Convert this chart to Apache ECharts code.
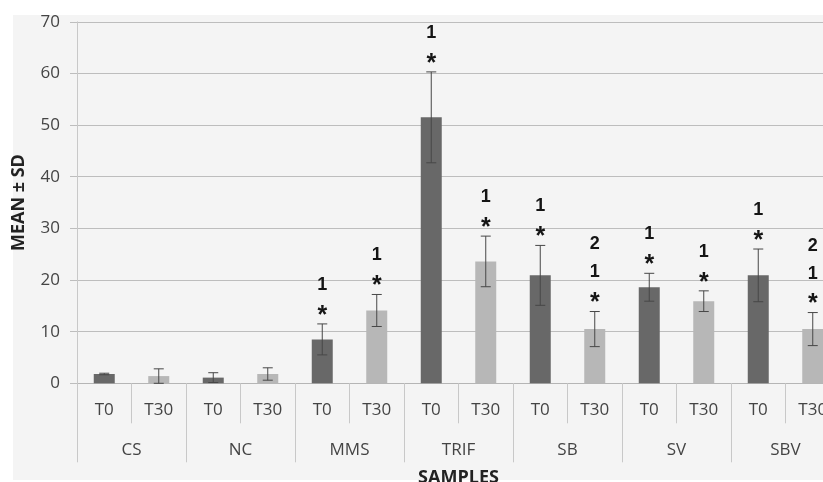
<!DOCTYPE html>
<html>
<head>
<meta charset="utf-8">
<script src="https://cdn.jsdelivr.net/npm/echarts@6/dist/echarts.min.js"></script>
<style>
html,body{margin:0;padding:0;background:#fff;}
#chart{width:823px;height:482px;}
</style>
</head>
<body>
<div id="chart"></div>
<script>
// ---- data ----
const groups = ['CS', 'NC', 'MMS', 'TRIF', 'SB', 'SV', 'SBV'];
const times = ['T0', 'T30', 'T0', 'T30', 'T0', 'T30', 'T0', 'T30', 'T0', 'T30', 'T0', 'T30', 'T0', 'T30'];
const means = [1.8, 1.4, 1.1, 1.8, 8.5, 14.1, 51.5, 23.6, 20.9, 10.5, 18.6, 15.9, 20.9, 10.5];
const sds   = [0.15, 1.4, 0.95, 1.2, 3.0, 3.1, 8.8, 4.9, 5.8, 3.4, 2.7, 2.0, 5.1, 3.2];
// significance marks above each bar: lines from bottom (near bar) to top
const marks = [[], [], [], [], ['*', '1'], ['*', '1'], ['*', '1'], ['*', '1'], ['*', '1'], ['*', '1', '2'], ['*', '1'], ['*', '1'], ['*', '1'], ['*', '1', '2']];
const yTicks = { min: 0, max: 70, interval: 10 };

// ---- chart ----
const DARK = '#686868', LIGHT = '#b7b7b7';
const labelColor = '#444444';
const lineColor = '#bdbdbd';
const chart = echarts.init(document.getElementById('chart'));
const gridBox = { left: 77, right: -17, top: 21.8, bottom: 98.7, outerBoundsMode: 'none', containLabel: false };
const markOffsets = [8, 39, 67];
const markFonts = ['bold 25px "Liberation Sans"', 'bold 18px "Liberation Sans"', 'bold 18px "Liberation Sans"'];

chart.setOption({
  animation: false,
  backgroundColor: '#ffffff',
  graphic: [
    { type: 'rect', z: -1, shape: { x: 13, y: 15, width: 810, height: 465 }, style: { fill: '#f4f4f4' } },
    { type: 'rect', z: 100, shape: { x: 0, y: 0, width: 823, height: 14 }, style: { fill: '#ffffff' } }
  ],
  grid: [Object.assign({}, gridBox), Object.assign({}, gridBox)],
  xAxis: [
    {
      type: 'category', gridIndex: 0, data: times, position: 'bottom',
      axisLine: { show: true, lineStyle: { color: '#b5b5b5', width: 1 } },
      axisTick: { show: true, interval: 0, length: 40, lineStyle: { color: '#c8c8c8' } },
      axisLabel: { interval: 0, margin: 18, fontFamily: 'Open Sans', fontSize: 17, color: labelColor }
    },
    {
      type: 'category', gridIndex: 1, data: groups, position: 'bottom',
      axisLine: { show: false },
      axisTick: { show: true, interval: 0, length: 79, lineStyle: { color: '#c8c8c8' } },
      axisLabel: { interval: 0, margin: 58, fontFamily: 'Open Sans', fontSize: 17, color: labelColor },
      name: 'SAMPLES', nameLocation: 'middle', nameGap: 86,
      nameTextStyle: { fontFamily: 'Open Sans', fontWeight: 'bold', fontSize: 18, color: '#222' }
    }
  ],
  yAxis: [
    {
      type: 'value', gridIndex: 0, min: yTicks.min, max: yTicks.max, interval: yTicks.interval,
      axisLine: { show: true, lineStyle: { color: '#c8c8c8' } },
      axisTick: { show: true, length: 7, lineStyle: { color: lineColor } },
      splitLine: { show: true, lineStyle: { color: lineColor, width: 1.2 } },
      axisLabel: { margin: 17, fontFamily: 'Open Sans', fontSize: 17, color: labelColor },
      name: 'MEAN \u00b1 SD', nameLocation: 'middle', nameRotate: 90, nameGap: 49,
      nameTextStyle: { fontFamily: 'Open Sans', fontWeight: 'bold', fontSize: 18, color: '#222' }
    },
    {
      type: 'value', gridIndex: 1, min: yTicks.min, max: yTicks.max, interval: yTicks.interval, show: false
    }
  ],
  series: [
    {
      type: 'bar', xAxisIndex: 0, yAxisIndex: 0, barWidth: 21,
      data: means,
      itemStyle: { color: p => (p.dataIndex % 2 ? LIGHT : DARK) },
      z: 2
    },
    {
      type: 'custom', xAxisIndex: 0, yAxisIndex: 0, z: 5,
      data: means.map((m, i) => [i, m, sds[i]]),
      renderItem: function (params, api) {
        const x = api.value(0), m = api.value(1), s = api.value(2);
        const top = api.coord([x, m + s]);
        const bot = api.coord([x, Math.max(0, m - s)]);
        const cap = 5;
        const st = { stroke: '#474747', lineWidth: 1 };
        const children = [
          { type: 'line', shape: { x1: top[0], y1: top[1], x2: bot[0], y2: bot[1] }, style: st },
          { type: 'line', shape: { x1: top[0] - cap, y1: top[1], x2: top[0] + cap, y2: top[1] }, style: st },
          { type: 'line', shape: { x1: bot[0] - cap, y1: bot[1], x2: bot[0] + cap, y2: bot[1] }, style: st }
        ];
        const mk = marks[params.dataIndex];
        mk.forEach((t, k) => {
          children.push({
            type: 'text',
            style: {
              text: t, x: top[0], y: top[1] - markOffsets[k],
              textAlign: 'center', textVerticalAlign: 'middle',
              font: markFonts[k], fill: '#151515'
            }
          });
        });
        return { type: 'group', children: children };
      }
    }
  ]
});
</script>
</body>
</html>
